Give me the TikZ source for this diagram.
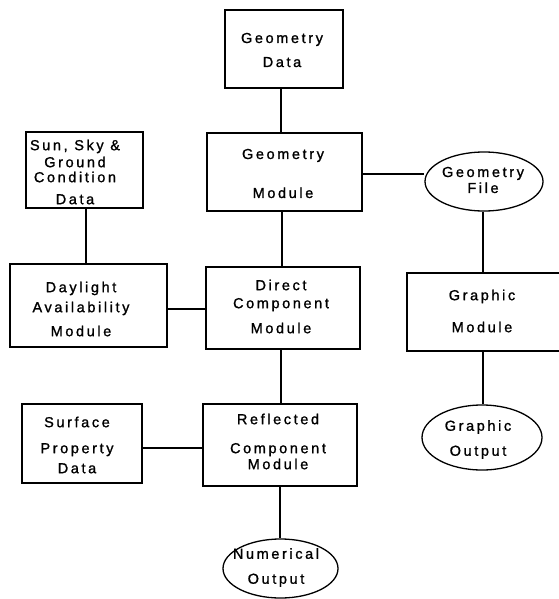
\documentclass[tikz,border=0pt]{standalone}
\usepackage{fontspec}
\setmainfont[LetterSpace=18,FakeBold=1.2]{Liberation Sans}
\usetikzlibrary{shapes.geometric}
\newcommand{\diafont}{\fontsize{14.5}{16}\selectfont}
\begin{document}
\begin{tikzpicture}[x=1pt,y=-1pt,
  thinbox/.style={draw,rectangle,line width=1.3pt,inner sep=0pt},
  thickbox/.style={draw,rectangle,line width=2.8pt,inner sep=0pt},
  oval/.style={draw,ellipse,line width=1.3pt,inner sep=0pt},
  txt/.style={align=center,inner sep=0pt,font=\diafont},
  conn/.style={line width=1.3pt}]
\useasboundingbox (0,0) rectangle (558,599);
% boxes
\node[thinbox,minimum width=118pt,minimum height=78pt] (gd) at (284,49) {};
\node[thickbox,minimum width=155pt,minimum height=78pt] (gm) at (284.5,172) {};
\node[thinbox,minimum width=117pt,minimum height=76pt] (sun) at (84.5,170) {};
\node[thickbox,minimum width=157pt,minimum height=83pt] (dl) at (88.5,305.5) {};
\node[thickbox,minimum width=154pt,minimum height=82pt] (dc) at (283,308) {};
\node[thickbox,minimum width=153pt,minimum height=78pt] (gmod) at (483.5,312) {};
\node[thinbox,minimum width=120pt,minimum height=79pt] (sp) at (82,443.5) {};
\node[thickbox,minimum width=154pt,minimum height=82pt] (rf) at (280,445) {};
\node[oval,minimum width=118pt,minimum height=59pt] (gf) at (484,181.5) {};
\node[oval,minimum width=120pt,minimum height=65pt] (go) at (482,437.5) {};
\node[oval,minimum width=115pt,minimum height=59pt] (no) at (280.5,568.5) {};
% texts
\node[txt] (gdT) at (282,50) {Geometry\\[8pt]Data};
\node[txt] (gmT) at (283,173.5) {Geometry\\[23pt]Module};
\node[txt] (sunT) at (75,172) {Sun, Sky \&\\[1pt]Ground\\[-1pt]Condition\\[6pt]Data};
\node[txt] (dlT) at (81,309) {Daylight\\[4pt]Availability\\[8pt]Module};
\node[txt] (dcT) at (281,306.5) {Direct\\[2pt]Component\\[9pt]Module};
\node[txt] (gmodT) at (482,311) {Graphic\\[16pt]Module};
\node[txt] (gfT) at (483,180) {Geometry\\[0pt]File};
\node[txt] (spT) at (77,445) {Surface\\[10pt]Property\\[4pt]Data};
\node[txt] (rfT) at (278,441.5) {Reflected\\[13pt]Component\\[0pt]Module};
\node[txt] (goT) at (478,439.5) {Graphic\\[9pt]Output};
\node[txt] (noT) at (276,567.5) {Numerical\\[9pt]Output};
% connector guides
\coordinate (cA) at (281,0);
\coordinate (cB) at (282,0);
\coordinate (cC) at (281,0);
\coordinate (cD) at (280,0);
\coordinate (cE) at (86,0);
\coordinate (cF) at (483,0);
\coordinate (rA) at (0,174);
\coordinate (rB) at (0,309);
\coordinate (rC) at (0,448);
% connectors
\draw[conn] (gd.south -| cA) -- (gm.north -| cA);
\draw[conn] (gm.south -| cB) -- (dc.north -| cB);
\draw[conn] (dc.south -| cC) -- (rf.north -| cC);
\draw[conn] (rf.south -| cD) -- (no.north -| cD);
\draw[conn] (sun.south -| cE) -- (dl.north -| cE);
\draw[conn] (dl.east |- rB) -- (dc.west |- rB);
\draw[conn] (sp.east |- rC) -- (rf.west |- rC);
\draw[conn] (gm.east |- rA) -- (gf.west |- rA);
\draw[conn] (gf.south -| cF) -- (gmod.north -| cF);
\draw[conn] (gmod.south -| cF) -- (go.north -| cF);
\end{tikzpicture}
\end{document}
